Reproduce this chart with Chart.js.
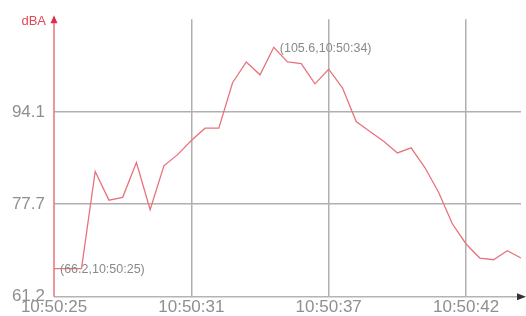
<!DOCTYPE html>
<html>
<head>
<meta charset="utf-8">
<script src="https://cdn.jsdelivr.net/npm/chart.js@4"></script>
<style>
  html, body { margin: 0; padding: 0; background: #fff; }
  #wrap { width: 526px; height: 316px; position: relative; }
</style>
</head>
<body>
<div id="wrap"><canvas id="noiseChart"></canvas></div>
<script>
// sample timestamps (one per reading)
const times = [
  '10:50:25', '10:50:25', '10:50:26', '10:50:26', '10:50:27', '10:50:28', '10:50:28',
  '10:50:29', '10:50:30', '10:50:30', '10:50:31', '10:50:31', '10:50:32', '10:50:33',
  '10:50:33', '10:50:34', '10:50:34', '10:50:35', '10:50:36', '10:50:36', '10:50:37',
  '10:50:37', '10:50:38', '10:50:38', '10:50:39', '10:50:39', '10:50:40', '10:50:40',
  '10:50:41', '10:50:41', '10:50:42', '10:50:42', '10:50:43', '10:50:43', '10:50:44'
];
// sound level readings, dBA
const levels = [
  66.2, 66.2, 66.2, 83.5, 78.4, 78.9, 85.1, 76.7, 84.5, 86.5, 89.0, 91.2,
  91.2, 99.3, 103.0, 100.7, 105.6, 103.0, 102.7, 99.1, 101.7, 98.4, 92.4,
  90.6, 88.9, 86.8, 87.7, 84.2, 79.8, 74.2, 70.6, 68.1, 67.8, 69.4, 68.1
];
const yTicks = [61.2, 77.7, 94.1];
const xTickIdx = [0, 10, 20, 30];
const marks = [0, 16]; // points that get a "(value,time)" label

const FONT = '"Liberation Sans", Arial, sans-serif';
const RED = '#e8737c';

// axis lines with arrows, unit label and point labels
const decor = {
  id: 'decor',
  afterDraw(chart) {
    const { ctx, chartArea: a, scales: { x, y } } = chart;
    ctx.save();
    // x axis
    ctx.strokeStyle = '#b4b4b4';
    ctx.lineWidth = 1.5;
    ctx.beginPath();
    ctx.moveTo(a.left, a.bottom);
    ctx.lineTo(a.right + 2, a.bottom);
    ctx.stroke();
    ctx.fillStyle = '#333';
    ctx.beginPath();
    ctx.moveTo(a.right + 5, a.bottom);
    ctx.lineTo(a.right - 4, a.bottom - 3.5);
    ctx.lineTo(a.right - 4, a.bottom + 3.5);
    ctx.closePath();
    ctx.fill();
    // y axis
    ctx.strokeStyle = RED;
    ctx.lineWidth = 1.5;
    ctx.beginPath();
    ctx.moveTo(a.left, a.bottom);
    ctx.lineTo(a.left, a.top);
    ctx.stroke();
    ctx.fillStyle = '#d9304a';
    ctx.beginPath();
    ctx.moveTo(a.left, a.top - 4);
    ctx.lineTo(a.left - 3.5, a.top + 4);
    ctx.lineTo(a.left + 3.5, a.top + 4);
    ctx.closePath();
    ctx.fill();
    // unit
    ctx.fillStyle = '#e2485a';
    ctx.font = '13px ' + FONT;
    ctx.textAlign = 'right';
    ctx.textBaseline = 'middle';
    ctx.fillText('dBA', a.left - 8, a.top + 2);
    // point labels
    ctx.fillStyle = '#8a8a8a';
    ctx.font = '12.5px ' + FONT;
    ctx.textAlign = 'left';
    marks.forEach(i => {
      const px = x.getPixelForValue(i);
      const py = y.getPixelForValue(levels[i]);
      ctx.fillText('(' + levels[i] + ',' + times[i] + ')', px + 6, py + 1);
    });
    ctx.restore();
  }
};

const ctx = document.getElementById('noiseChart').getContext('2d');
new Chart(ctx, {
  type: 'line',
  data: {
    labels: times,
    datasets: [{
      data: levels,
      borderColor: RED,
      borderWidth: 1.3,
      pointRadius: 0,
      tension: 0,
      fill: false
    }]
  },
  options: {
    responsive: true,
    maintainAspectRatio: false,
    animation: false,
    layout: { padding: { top: 14, right: 5, left: 0, bottom: 0 } },
    plugins: { legend: { display: false }, tooltip: { enabled: false } },
    scales: {
      x: {
        type: 'category',
        offset: false,
        border: { display: false },
        grid: {
          drawTicks: false,
          color: c => c.index === 0 ? 'rgba(0,0,0,0)' : '#b0b0b0',
          lineWidth: 1.5
        },
        afterBuildTicks: s => { s.ticks = xTickIdx.map(v => ({ value: v })); },
        afterFit: s => { s.height = 19; },
        ticks: {
          autoSkip: false,
          maxRotation: 0,
          padding: 0,
          color: '#8f8f8f',
          font: { family: FONT, size: 17 }
        }
      },
      y: {
        min: 61.2,
        max: 110.6,
        border: { display: false },
        grid: {
          drawTicks: false,
          color: c => c.index === 0 ? 'rgba(0,0,0,0)' : '#b0b0b0',
          lineWidth: 1.5
        },
        afterBuildTicks: s => { s.ticks = yTicks.map(v => ({ value: v })); },
        afterFit: s => { s.width = 54; },
        ticks: {
          padding: 9,
          color: '#8f8f8f',
          font: { family: FONT, size: 17 },
          callback: v => v.toFixed(1)
        }
      }
    }
  },
  plugins: [decor]
});
</script>
</body>
</html>
